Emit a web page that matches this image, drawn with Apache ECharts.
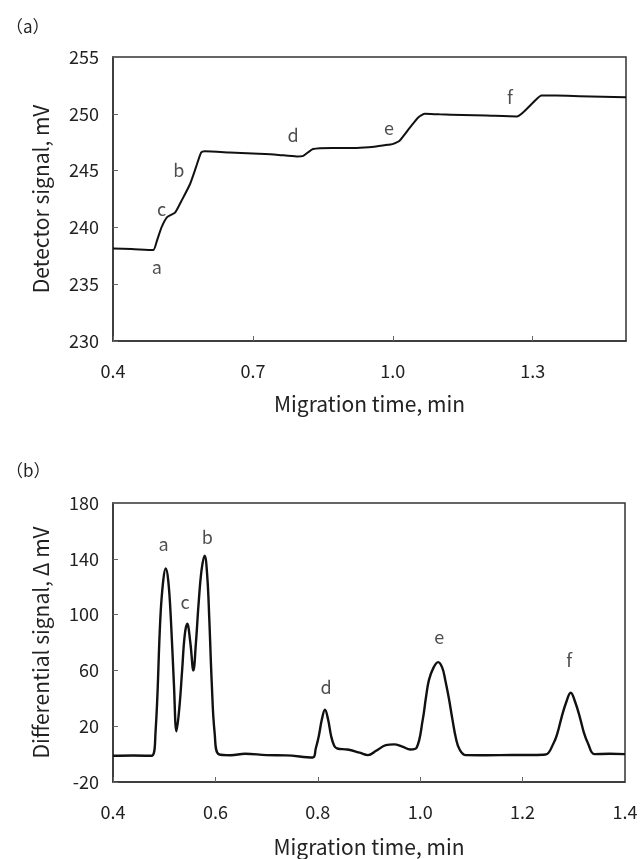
<!DOCTYPE html>
<html>
<head>
<meta charset="utf-8">
<script src="https://cdn.jsdelivr.net/npm/echarts@6/dist/echarts.min.js"></script>
<style>
html,body{margin:0;padding:0;background:#fff;}
#chart{width:641px;height:859px;}
</style>
</head>
<body>
<div id="chart"></div>
<script>
// ---- Panel (a): detector signal ----
const timeA = [0.40, 0.44, 0.486, 0.494, 0.504, 0.516, 0.533, 0.547, 0.565, 0.578, 0.589, 0.597, 0.65, 0.70, 0.75, 0.794, 0.808, 0.829, 0.87, 0.922, 0.96, 0.994, 1.001, 1.015, 1.037, 1.055, 1.069, 1.10, 1.15, 1.20, 1.266, 1.28, 1.301, 1.319, 1.35, 1.40, 1.45, 1.50];
const signalA = [238.15, 238.1, 238.0, 238.8, 240.0, 240.9, 241.3, 242.35, 243.8, 245.3, 246.6, 246.7, 246.6, 246.5, 246.4, 246.25, 246.3, 246.9, 247.0, 247.0, 247.1, 247.3, 247.35, 247.65, 248.8, 249.7, 250.0, 249.95, 249.9, 249.85, 249.77, 250.15, 251.0, 251.6, 251.6, 251.55, 251.5, 251.45];
const peakNamesA = ['a', 'c', 'b', 'd', 'e', 'f'];
const peakLabelXA = [0.494, 0.504, 0.541, 0.786, 0.992, 1.251];
const peakLabelYA = [236.5, 241.6, 245.0, 248.1, 248.7, 251.5];
const xTicksA = { min: 0.4, max: 1.5, interval: 0.3 };
const yTicksA = { min: 230, max: 255, interval: 5 };

// ---- Panel (b): differential signal ----
const timeB = [0.40, 0.44, 0.475, 0.483, 0.4925, 0.498, 0.503, 0.508, 0.513, 0.519, 0.524, 0.530, 0.535, 0.540, 0.545, 0.551, 0.557, 0.562, 0.567, 0.573, 0.579, 0.584, 0.588, 0.593, 0.5985, 0.607, 0.63, 0.658, 0.70, 0.738, 0.79, 0.796, 0.802, 0.808, 0.814, 0.820, 0.826, 0.832, 0.838, 0.858, 0.882, 0.898, 0.914, 0.933, 0.949, 0.965, 0.981, 0.993, 1.005, 1.011, 1.017, 1.026, 1.035, 1.043, 1.049, 1.056, 1.063, 1.070, 1.077, 1.089, 1.13, 1.18, 1.22, 1.245, 1.26, 1.268, 1.276, 1.285, 1.294, 1.303, 1.312, 1.320, 1.328, 1.34, 1.37, 1.40];
const signalB = [-1.2, -1.0, -1.2, 15.3, 97.6, 124, 133, 124, 97, 50, 16.4, 35, 60, 85, 93.4, 80, 60, 80, 107, 132, 142.3, 128, 97.6, 50, 15.3, -0.2, -0.8, 0.3, -0.7, -0.9, -2.4, 4, 13, 25, 31.8, 25, 13, 6, 4.0, 3.3, 1.0, -0.7, 2.4, 6.4, 7.0, 5.4, 3.3, 4.6, 24.7, 40, 53, 62, 65.9, 62, 53, 40, 24.7, 11, 3.3, -0.7, -0.8, -0.6, -0.6, -0.3, 7.4, 15, 26.2, 37, 44, 37, 26.2, 15, 7.4, 0, 0.2, 0];
const peakNamesB = ['a', 'c', 'b', 'd', 'e', 'f'];
const peakLabelXB = [0.499, 0.541, 0.584, 0.816, 1.037, 1.291];
const peakLabelYB = [150.6, 109, 155.3, 48, 83.6, 67];
const xTicksB = { min: 0.4, max: 1.4, interval: 0.2 };
const yTicksB = { min: -20, max: 180, interval: 40 };

const FONT = '"Noto Sans CJK JP", "Noto Sans", sans-serif';
const TXT = '#222';

function zip(xs, ys) { return xs.map((x, i) => [x, ys[i]]); }
function labelData(names, xs, ys) { return names.map((n, i) => ({ name: n, value: [xs[i], ys[i]] })); }

function xAxisCfg(idx, t, showMax, gap) {
  return {
    type: 'value', gridIndex: idx, min: t.min, max: t.max, interval: t.interval,
    name: 'Migration time, min', nameLocation: 'middle', nameGap: gap,
    nameTextStyle: { fontFamily: FONT, fontSize: 21, color: TXT },
    axisLine: { show: true, onZero: false, lineStyle: { color: '#333', width: 1.5 } },
    axisTick: { show: true, inside: true, length: 5, lineStyle: { color: '#666' } },
    axisLabel: { fontFamily: FONT, fontSize: 18, color: TXT, margin: 21, showMaxLabel: showMax, formatter: v => v.toFixed(1) },
    splitLine: { show: false }
  };
}
function yAxisCfg(idx, t, title) {
  return {
    type: 'value', gridIndex: idx, min: t.min, max: t.max, interval: t.interval,
    name: title, nameLocation: 'middle', nameGap: 61, nameRotate: 90,
    nameTextStyle: { fontFamily: FONT, fontSize: 21, color: TXT },
    axisLine: { show: true, onZero: false, lineStyle: { color: '#333', width: 1.5 } },
    axisTick: { show: true, inside: true, length: 5, lineStyle: { color: '#666' } },
    axisLabel: { fontFamily: FONT, fontSize: 18, color: TXT, margin: 14 },
    splitLine: { show: false }
  };
}
function labelSeries(idx, names, xs, ys) {
  return {
    type: 'scatter', xAxisIndex: idx, yAxisIndex: idx, symbolSize: 0, silent: true,
    data: labelData(names, xs, ys),
    label: { show: true, position: 'inside', formatter: p => p.name, fontFamily: FONT, fontSize: 18, color: TXT }
  };
}

const chart = echarts.init(document.getElementById('chart'), null, { renderer: 'canvas' });
chart.setOption({
  backgroundColor: '#fff',
  animation: false,
  graphic: [
    { type: 'text', left: 6, top: 18, style: { text: '（a）', fontFamily: '"Noto Sans CJK JP"', fontSize: 17, fill: TXT } },
    { type: 'text', left: 6, top: 462, style: { text: '（b）', fontFamily: '"Noto Sans CJK JP"', fontSize: 17, fill: TXT } }
  ],
  grid: [
    { left: 113, right: 15, top: 57, height: 284, show: true, borderColor: '#333', borderWidth: 1.5, backgroundColor: 'transparent' },
    { left: 113, right: 16, top: 503, height: 283, show: true, borderColor: '#333', borderWidth: 1.5, backgroundColor: 'transparent' }
  ],
  xAxis: [xAxisCfg(0, xTicksA, false, 53), xAxisCfg(1, xTicksB, true, 55)],
  yAxis: [yAxisCfg(0, yTicksA, 'Detector signal, mV'), yAxisCfg(1, yTicksB, 'Differential signal, Δ mV')],
  series: [
    { type: 'line', xAxisIndex: 0, yAxisIndex: 0, data: zip(timeA, signalA), showSymbol: false, smooth: 0.2, lineStyle: { color: '#111', width: 2 } },
    labelSeries(0, peakNamesA, peakLabelXA, peakLabelYA),
    { type: 'line', xAxisIndex: 1, yAxisIndex: 1, data: zip(timeB, signalB), showSymbol: false, smooth: 0.4, lineStyle: { color: '#111', width: 2.4 } },
    labelSeries(1, peakNamesB, peakLabelXB, peakLabelYB)
  ]
});
</script>
</body>
</html>
